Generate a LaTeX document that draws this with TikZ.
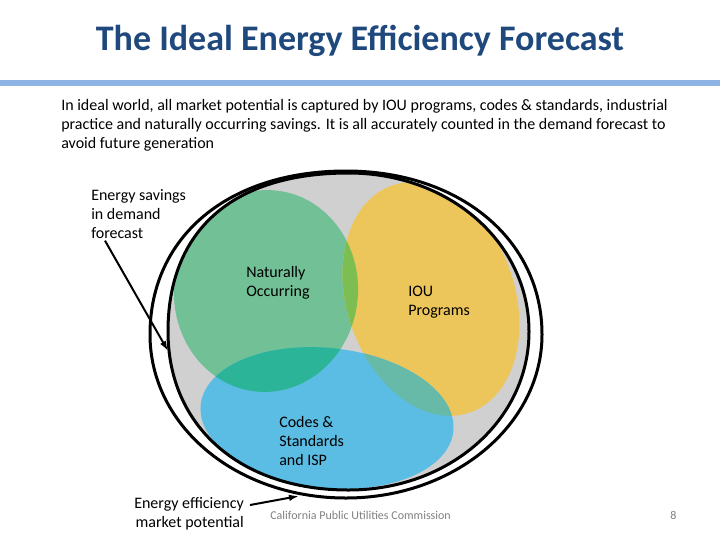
\documentclass[tikz,border=0pt]{standalone}
\usepackage{fontspec}
\setmainfont{Carlito}
\usepackage{xcolor}
\usetikzlibrary{arrows.meta,calc}

\definecolor{titleblue}{RGB}{31,73,125}
\definecolor{barblue}{RGB}{141,180,226}
\definecolor{venngray}{RGB}{208,208,208}
\definecolor{natgreen}{RGB}{114,192,150}
\definecolor{iouyellow}{RGB}{236,198,90}
\definecolor{codesblue}{RGB}{91,189,227}
\definecolor{greenblue}{RGB}{44,180,152}
\definecolor{greenyellow}{RGB}{125,190,82}
\definecolor{yellowblue}{RGB}{104,186,168}
\definecolor{footgray}{RGB}{128,128,128}

% rounded ring: centre x, centre y, radius x, radius y, then bulge of each quarter (upper right, upper left, lower left, lower right)
\newcommand{\ringpath}[8]{({#1+#3},#2) .. controls ({#1+#3},{#2-#5*#4}) and ({#1+#5*#3},{#2-#4}) .. (#1,{#2-#4})
  .. controls ({#1-#6*#3},{#2-#4}) and ({#1-#3},{#2-#6*#4}) .. ({#1-#3},#2)
  .. controls ({#1-#3},{#2+#7*#4}) and ({#1-#7*#3},{#2+#4}) .. (#1,{#2+#4})
  .. controls ({#1+#8*#3},{#2+#4}) and ({#1+#3},{#2+#8*#4}) .. ({#1+#3},#2) -- cycle}
\newcommand{\innerring}{\ringpath{348.5}{331.5}{180.5}{158.5}{0.56}{0.64}{0.60}{0.56}}
\newcommand{\outerring}{\ringpath{346}{334.5}{196}{163.5}{0.58}{0.60}{0.56}{0.552}}

\tikzset{
  lbl/.style={anchor=north west,inner sep=0pt,align=left,font=\fontsize{12}{14.25}\selectfont},
  ring/.style={draw=black,line width=2.25pt},
  pointer/.style={draw=black,line width=1.5pt,-{Latex[length=7.5pt,width=5pt]}}
}

\begin{document}
\begin{tikzpicture}[x=0.75pt,y=0.75pt,yscale=-1,xscale=1]
	\useasboundingbox (0,0) rectangle (720,540);
	
	% Title and bar
	\node (title) [anchor=base,inner sep=0pt,text=titleblue,font=\fontsize{27}{32}\selectfont\bfseries] at (360,50) {The Ideal Energy Efficiency Forecast};
	\fill [barblue] (0,80) rectangle (720,86);
	
	% Text Node
	\node (intro) [lbl] at (61,99) {In ideal world, all market potential is captured by IOU programs, codes \& standards, industrial\\practice and naturally occurring savings. It is all accurately counted in the demand forecast to\\avoid future generation};
	
	%Shape: gray, demand forecast
	\fill [venngray] \innerring;
	
	\begin{scope}
		\clip \innerring;
		%Shape: Ellipse (green)
		\fill [natgreen,rotate around={5:(266,291)}] (266,291) ellipse [x radius=92,y radius=101];
		%Shape: Ellipse (yellow)
		\fill [iouyellow,rotate around={-18.7:(431,299)}] (431,299) ellipse [x radius=84,y radius=120];
		%Shape: Ellipse (blue)
		\fill [codesblue,rotate around={6:(327,418)}] (327,418) ellipse [x radius=127,y radius=70];
		% overlaps
		\begin{scope}
			\clip [rotate around={5:(266,291)}] (266,291) ellipse [x radius=92,y radius=101];
			\fill [greenblue,rotate around={6:(327,418)}] (327,418) ellipse [x radius=127,y radius=70];
			\fill [greenyellow,rotate around={-18.7:(431,299)}] (431,299) ellipse [x radius=84,y radius=120];
		\end{scope}
		\begin{scope}
			\clip [rotate around={-18.7:(431,299)}] (431,299) ellipse [x radius=84,y radius=120];
			\fill [yellowblue,rotate around={6:(327,418)}] (327,418) ellipse [x radius=127,y radius=70];
		\end{scope}
	\end{scope}
	
	%Shape: inner ring
	\draw [ring] \innerring;
	%Shape: outer ring
	\draw [ring] \outerring;
	
	% Text Node
	\node (natural) [lbl] at (246,266) {Naturally\\Occurring};
	% Text Node
	\node (iou) [lbl] at (408,286) {IOU\\Programs};
	% Text Node
	\node (codes) [lbl] at (279,416) {Codes \&\\Standards\\and ISP};
	% Text Node
	\node (savings) [lbl] at (91,189) {Energy savings\\in demand\\forecast};
	% Text Node
	\node (potential) [lbl,anchor=north east,align=right] at (244,497) {Energy efficiency\\market potential};
	
	% pointers
	\coordinate (savingstip) at (168,351);
	\coordinate (potentialtip) at (299,496);
	\draw [pointer] ($(savings.south west)+(14,2)$) -- (savingstip);
	\draw [pointer] ($(potential.north east)+(6,8)$) -- (potentialtip);
	
	% Footer
	\node (footer) [anchor=base west,inner sep=0pt,text=footgray,font=\fontsize{9}{11}\selectfont] at (270,519) {California Public Utilities Commission};
	\node (page) [anchor=base west,inner sep=0pt,text=footgray,font=\fontsize{9}{11}\selectfont] at (670,519) {8};
	
\end{tikzpicture}
\end{document}
